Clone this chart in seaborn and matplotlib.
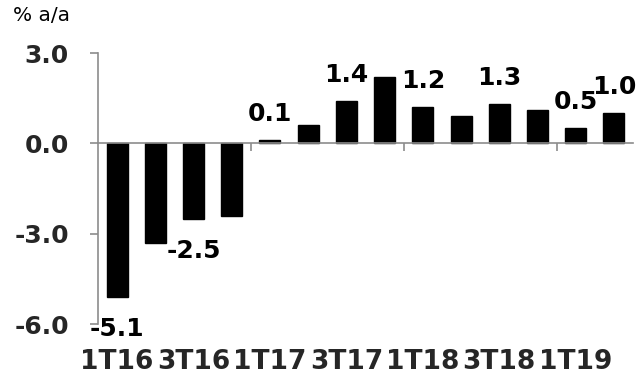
import matplotlib
matplotlib.use("Agg")
import matplotlib.pyplot as plt
import seaborn as sns
import numpy as np

# Data
quarters = ["1T16", "2T16", "3T16", "4T16", "1T17", "2T17", "3T17", "4T17",
            "1T18", "2T18", "3T18", "4T18", "1T19", "2T19"]
values = [-5.1, -3.3, -2.5, -2.4, 0.1, 0.6, 1.4, 2.2, 1.2, 0.9, 1.3, 1.1, 0.5, 1.0]
labeled_idx = [0, 2, 4, 6, 8, 10, 12, 13]
y_ticks = [-6.0, -3.0, 0.0, 3.0]
unit_label = "% a/a"

sns.set_style("white")
plt.rcParams["font.family"] = ["DejaVu Sans"]

fig = plt.figure(figsize=(6.39, 3.79), dpi=100)
ax = fig.add_axes([98/639, 55/379, 535/639, 271/379])

sns.barplot(x=quarters, y=values, color="black", saturation=1, width=0.55,
            ax=ax, edgecolor="black")

ax.set_xlim(-0.5, len(quarters) - 0.5)
ax.set_ylim(-6, 3)

gray = "#8c8c8c"
for s in ["top", "right"]:
    ax.spines[s].set_visible(False)
ax.spines["left"].set_color(gray)
ax.spines["left"].set_linewidth(1.2)
ax.spines["bottom"].set_color(gray)
ax.spines["bottom"].set_linewidth(1.2)
ax.spines["bottom"].set_position(("data", 0))

ax.set_yticks(y_ticks)
ax.set_yticklabels([f"{v:.1f}" for v in y_ticks], fontsize=18, fontweight="bold")
ax.tick_params(axis="y", direction="out", length=6, width=1.2, color=gray, pad=15,
               left=True)

major_pos = list(range(0, len(quarters), 2))
ax.set_xticks(major_pos)
ax.set_xticklabels([quarters[i] for i in major_pos], fontsize=19, fontweight="bold")
ax.tick_params(axis="x", which="major", length=0, pad=148)
ax.set_xticks([3.5, 7.5, 11.5], minor=True)
ax.tick_params(axis="x", which="minor", direction="out", length=6, width=1.2,
               color=gray, bottom=True)
ax.set_xlabel("")
ax.set_ylabel("")

for i in labeled_idx:
    v = values[i]
    if v >= 0:
        off = 14
    else:
        off = -28
    ax.annotate(f"{v:.1f}", xy=(i, v), xytext=(0, off), textcoords="offset points",
                ha="center", va="baseline", fontsize=18, fontweight="bold",
                color="black", annotation_clip=False)

fig.text(13/639, 1 - 6/379, unit_label, ha="left", va="top", fontsize=14.5,
         color="black")

fig.savefig("out.png", dpi=100)
